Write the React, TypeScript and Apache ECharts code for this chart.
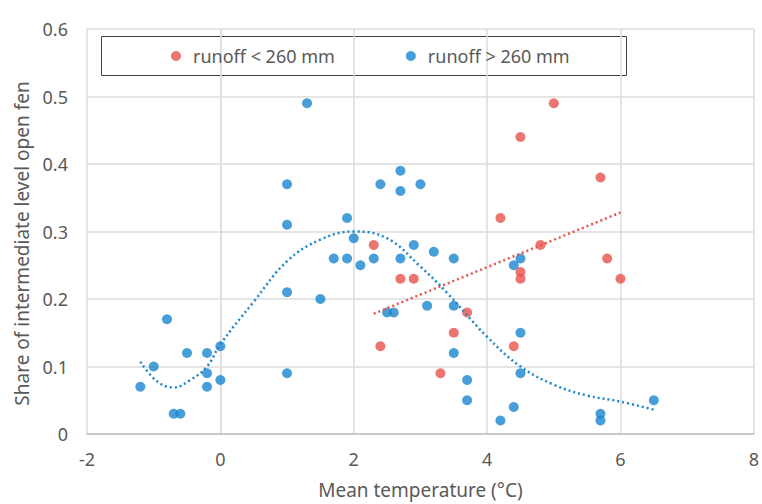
import React, { useEffect, useRef } from "react";
import * as echarts from "echarts";

const xTicks = [-2, 0, 2, 4, 6, 8];
const yTicks = [0, 0.1, 0.2, 0.3, 0.4, 0.5, 0.6];

const lowRunoffX = [2.3, 2.4, 2.7, 2.9, 3.3, 3.5, 3.7, 4.2, 4.4, 4.5, 4.5, 4.5, 4.8, 5.0, 5.7, 5.8, 6.0];
const lowRunoffY = [0.28, 0.13, 0.23, 0.23, 0.09, 0.15, 0.18, 0.32, 0.13, 0.44, 0.24, 0.23, 0.28, 0.49, 0.38, 0.26, 0.23];

const highRunoffX = [-1.2, -1.0, -0.8, -0.7, -0.6, -0.5, -0.2, -0.2, -0.2, 0, 0, 1.0, 1.0, 1.0, 1.0, 1.3, 1.5, 1.7, 1.9, 1.9, 2.0, 2.1, 2.3, 2.4, 2.5, 2.6, 2.7, 2.7, 2.7, 2.9, 3.0, 3.1, 3.2, 3.5, 3.5, 3.5, 3.7, 3.7, 4.2, 4.4, 4.4, 4.5, 4.5, 4.5, 5.7, 5.7, 6.5];
const highRunoffY = [0.07, 0.10, 0.17, 0.03, 0.03, 0.12, 0.12, 0.09, 0.07, 0.13, 0.08, 0.37, 0.31, 0.21, 0.09, 0.49, 0.20, 0.26, 0.32, 0.26, 0.29, 0.25, 0.26, 0.37, 0.18, 0.18, 0.39, 0.36, 0.26, 0.28, 0.37, 0.19, 0.27, 0.26, 0.19, 0.12, 0.08, 0.05, 0.02, 0.25, 0.04, 0.26, 0.15, 0.09, 0.03, 0.02, 0.05];

// polynomial trend of the high-runoff group
const highTrendX = [-1.2, -0.95, -0.7, -0.45, -0.2, 0, 0.5, 1.0, 1.5, 2.0, 2.5, 3.0, 3.4, 4.0, 4.5, 5.0, 5.5, 6.0, 6.5];
const highTrendY = [0.107, 0.078, 0.069, 0.08, 0.1, 0.133, 0.196, 0.256, 0.288, 0.3, 0.29, 0.248, 0.209, 0.144, 0.1, 0.073, 0.057, 0.048, 0.036];

const RED = "#E8524C";
const BLUE = "#1A86CE";
const GREY_TEXT = "#595959";
const FONT = "'Noto Sans', 'Open Sans', sans-serif";

function linearTrend(xs: number[], ys: number[]) {
  const n = xs.length;
  const mx = xs.reduce((a, b) => a + b, 0) / n;
  const my = ys.reduce((a, b) => a + b, 0) / n;
  let sxy = 0;
  let sxx = 0;
  for (let i = 0; i < n; i++) {
    sxy += (xs[i] - mx) * (ys[i] - my);
    sxx += (xs[i] - mx) * (xs[i] - mx);
  }
  const slope = sxy / sxx;
  const icpt = my - slope * mx;
  const x0 = Math.min(...xs);
  const x1 = Math.max(...xs);
  return [
    [x0, icpt + slope * x0],
    [x1, icpt + slope * x1],
  ];
}

export default function App() {
  const ref = useRef<HTMLDivElement>(null);
  useEffect(() => {
    if (!ref.current) return;
    const chart = echarts.init(ref.current, undefined, { renderer: "svg" });
    const low = lowRunoffX.map((x, i) => [x, lowRunoffY[i]]);
    const high = highRunoffX.map((x, i) => [x, highRunoffY[i]]);
    const highTrend = highTrendX.map((x, i) => [x, highTrendY[i]]);
    const lowTrend = linearTrend(lowRunoffX, lowRunoffY);
    chart.setOption({
      animation: false,
      backgroundColor: "#ffffff",
      textStyle: { fontFamily: FONT },
      grid: { left: 87, right: 8, top: 29, bottom: 70 },
      graphic: [
        {
          type: "rect",
          left: 101,
          top: 36,
          z: 0,
          shape: { width: 525, height: 39 },
          style: { fill: "#ffffff", stroke: "#404040", lineWidth: 1 },
        },
      ],
      legend: {
        data: ["runoff < 260 mm", "runoff > 260 mm"],
        left: 166,
        top: 42,
        icon: "circle",
        itemWidth: 24,
        itemHeight: 10,
        itemGap: 71,
        z: 10,
        textStyle: { fontSize: 18, color: GREY_TEXT, fontFamily: FONT },
      },
      xAxis: {
        type: "value",
        min: xTicks[0],
        max: xTicks[xTicks.length - 1],
        interval: 2,
        name: "Mean temperature (°C)",
        nameLocation: "middle",
        nameGap: 46,
        nameTextStyle: { fontSize: 19, color: GREY_TEXT },
        axisLine: { show: true, lineStyle: { color: "#bfbfbf", width: 1.5 } },
        axisTick: { show: false },
        axisLabel: { fontSize: 18, color: GREY_TEXT, margin: 16 },
        splitLine: { show: true, lineStyle: { color: "#dcdcdc", width: 1.5 } },
      },
      yAxis: {
        type: "value",
        min: yTicks[0],
        max: yTicks[yTicks.length - 1],
        interval: 0.1,
        name: "Share of intermediate level open fen",
        nameLocation: "middle",
        nameGap: 49,
        nameTextStyle: { fontSize: 19, color: GREY_TEXT, padding: [0, 24, 0, 0] },
        axisLine: { show: true, lineStyle: { color: "#dcdcdc", width: 1.5 } },
        axisTick: { show: false },
        axisLabel: { fontSize: 18, color: GREY_TEXT, margin: 19 },
        splitLine: { show: true, lineStyle: { color: "#dcdcdc", width: 1.5 } },
      },
      series: [
        {
          name: "runoff < 260 mm",
          type: "scatter",
          data: low,
          symbol: "circle",
          symbolSize: 10,
          itemStyle: { color: RED },
          z: 4,
        },
        {
          name: "runoff > 260 mm",
          type: "scatter",
          data: high,
          symbol: "circle",
          symbolSize: 10,
          itemStyle: { color: BLUE },
          z: 3,
        },
        {
          name: "lowTrend",
          type: "line",
          data: lowTrend,
          showSymbol: false,
          silent: true,
          lineStyle: { color: RED, width: 2.5, type: [2, 3] },
          z: 5,
        },
        {
          name: "highTrend",
          type: "line",
          data: highTrend,
          smooth: 0.4,
          showSymbol: false,
          silent: true,
          lineStyle: { color: BLUE, width: 2.5, type: [2, 3] },
          z: 5,
        },
      ],
    });
    return () => chart.dispose();
  }, []);
  return <div ref={ref} style={{ width: 762, height: 504, position: "absolute", left: 0, top: 0 }} />;
}
